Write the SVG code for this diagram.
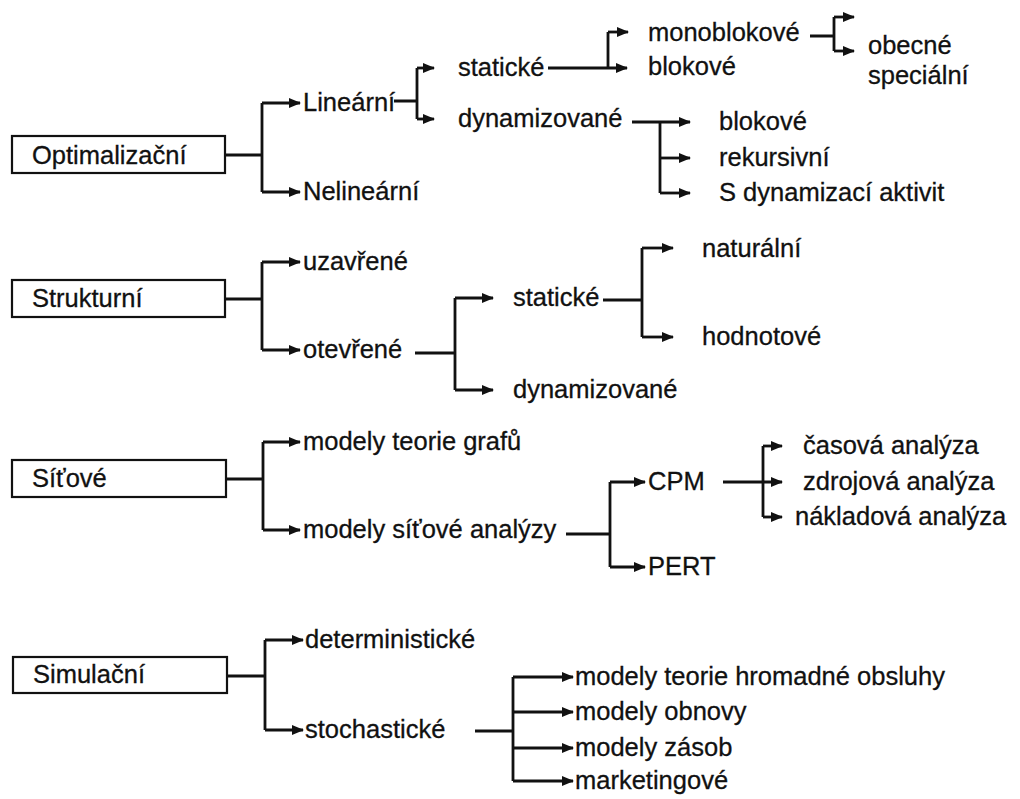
<svg xmlns="http://www.w3.org/2000/svg" width="1020" height="799" viewBox="0 0 1020 799">
  <style>
    text { font-family: "Liberation Sans", Arial, sans-serif; font-size: 25.5px; fill: #111; stroke: #111; stroke-width: 0.3; }
    .box { fill: #fff; stroke: #111; stroke-width: 2.2; }
    .ln { fill: none; stroke: #111; stroke-width: 2.8; }
    .ar { fill: none; stroke: #111; stroke-width: 2.8; marker-end: url(#head); }
  </style>
  <defs>
    <marker id="head" markerUnits="userSpaceOnUse" markerWidth="12" markerHeight="10" refX="11" refY="5" orient="auto">
      <path d="M0,0 L12,5 L0,10 z" fill="#111"/>
    </marker>
  </defs>
  <rect width="1020" height="799" fill="#fff"/>

  <!-- connectors -->
  <g id="connectors">
    <!-- Optimalizační -->
    <path class="ln" d="M225,155 H262 M262,103 V192"/>
    <path class="ar" d="M262,103 H300"/>
    <path class="ar" d="M262,192 H300"/>
    <path class="ln" d="M394,101 H417 M417,68 V119"/>
    <path class="ar" d="M417,68 H434"/>
    <path class="ar" d="M417,119 H434"/>
    <path class="ar" d="M548,68 H627"/>
    <path class="ln" d="M608,32 V68"/>
    <path class="ar" d="M608,32 H628"/>
    <path class="ln" d="M810,36 H834 M834,17 V51"/>
    <path class="ar" d="M834,17 H854"/>
    <path class="ar" d="M834,51 H854"/>
    <path class="ar" d="M632,122 H690"/>
    <path class="ln" d="M660,122 V193"/>
    <path class="ar" d="M660,158 H690"/>
    <path class="ar" d="M660,193 H690"/>

    <!-- Strukturní -->
    <path class="ln" d="M225,299 H262 M262,262 V350"/>
    <path class="ar" d="M262,262 H300"/>
    <path class="ar" d="M262,350 H300"/>
    <path class="ln" d="M415,353 H455 M455,298 V390"/>
    <path class="ar" d="M455,298 H493"/>
    <path class="ar" d="M455,390 H493"/>
    <path class="ln" d="M603,300 H642 M642,248 V337"/>
    <path class="ar" d="M642,248 H673"/>
    <path class="ar" d="M642,337 H673"/>

    <!-- Síťové -->
    <path class="ln" d="M226,479 H263 M263,442 V530"/>
    <path class="ar" d="M263,442 H300"/>
    <path class="ar" d="M263,530 H300"/>
    <path class="ln" d="M566,534 H610 M610,482 V567"/>
    <path class="ar" d="M610,482 H645"/>
    <path class="ar" d="M610,567 H645"/>
    <path class="ar" d="M723,482 H782"/>
    <path class="ln" d="M763,446 V517"/>
    <path class="ar" d="M763,446 H782"/>
    <path class="ar" d="M763,517 H782"/>

    <!-- Simulační -->
    <path class="ln" d="M227,676 H265 M265,640 V730"/>
    <path class="ar" d="M265,640 H303"/>
    <path class="ar" d="M265,730 H303"/>
    <path class="ln" d="M475,731 H513 M513,677 V781"/>
    <path class="ar" d="M513,677 H573"/>
    <path class="ar" d="M513,712 H573"/>
    <path class="ar" d="M513,748 H573"/>
    <path class="ar" d="M513,781 H573"/>
  </g>

  <!-- root boxes -->
  <g id="optimalizacni">
    <rect class="box" x="12" y="136" width="213" height="37"/>
    <text x="32" y="164">Optimalizační</text>
  </g>
  <g id="strukturni">
    <rect class="box" x="12" y="280" width="213" height="37"/>
    <text x="32" y="307">Strukturní</text>
  </g>
  <g id="sitove">
    <rect class="box" x="12" y="460" width="214" height="37"/>
    <text x="32" y="487">Síťové</text>
  </g>
  <g id="simulacni">
    <rect class="box" x="13" y="657" width="214" height="36"/>
    <text x="33" y="683">Simulační</text>
  </g>

  <!-- Optimalizační branch -->
  <g id="linearni"><text x="303" y="111">Lineární</text></g>
  <g id="nelinearni"><text x="303" y="200">Nelineární</text></g>
  <g id="staticke-1"><text x="458" y="76">statické</text></g>
  <g id="dynamizovane-1"><text x="458" y="127">dynamizované</text></g>
  <g id="monoblokove"><text x="648" y="41">monoblokové</text></g>
  <g id="blokove-1"><text x="648" y="75">blokové</text></g>
  <g id="obecne"><text x="868" y="54">obecné</text></g>
  <g id="specialni"><text x="868" y="84">speciální</text></g>
  <g id="blokove-2"><text x="719" y="130">blokové</text></g>
  <g id="rekursivni"><text x="719" y="166">rekursivní</text></g>
  <g id="s-dynamizaci"><text x="719" y="201">S dynamizací aktivit</text></g>

  <!-- Strukturní branch -->
  <g id="uzavrene"><text x="303" y="270">uzavřené</text></g>
  <g id="otevrene"><text x="303" y="358">otevřené</text></g>
  <g id="staticke-2"><text x="513" y="306">statické</text></g>
  <g id="dynamizovane-2"><text x="513" y="398">dynamizované</text></g>
  <g id="naturalni"><text x="702" y="257">naturální</text></g>
  <g id="hodnotove"><text x="702" y="345">hodnotové</text></g>

  <!-- Síťové branch -->
  <g id="teorie-grafu"><text x="303" y="450">modely teorie grafů</text></g>
  <g id="sitova-analyza"><text x="303" y="538">modely síťové analýzy</text></g>
  <g id="cpm"><text x="648" y="490">CPM</text></g>
  <g id="pert"><text x="648" y="575">PERT</text></g>
  <g id="casova"><text x="803" y="454">časová analýza</text></g>
  <g id="zdrojova"><text x="803" y="490">zdrojová analýza</text></g>
  <g id="nakladova"><text x="795" y="525">nákladová analýza</text></g>

  <!-- Simulační branch -->
  <g id="deterministicke"><text x="305" y="648">deterministické</text></g>
  <g id="stochasticke"><text x="305" y="738">stochastické</text></g>
  <g id="hromadna-obsluha"><text x="575" y="685">modely teorie hromadné obsluhy</text></g>
  <g id="obnova"><text x="575" y="720">modely obnovy</text></g>
  <g id="zasoby"><text x="575" y="756">modely zásob</text></g>
  <g id="marketingove"><text x="575" y="789">marketingové</text></g>
</svg>
